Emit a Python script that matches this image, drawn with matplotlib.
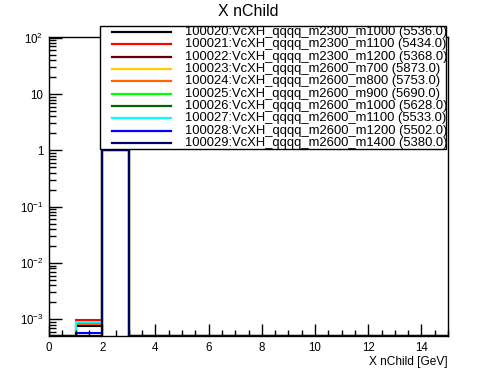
import numpy as np
import matplotlib
matplotlib.use("Agg")
import matplotlib.pyplot as plt
from matplotlib.ticker import FuncFormatter, LogLocator, MultipleLocator
from matplotlib.lines import Line2D
from matplotlib.patches import Rectangle

plt.rcParams['font.family'] = ['Liberation Sans', 'DejaVu Sans']
plt.rcParams['mathtext.fontset'] = 'custom'
plt.rcParams['mathtext.rm'] = 'Liberation Sans'
plt.rcParams['mathtext.it'] = 'Liberation Sans:italic'

# ---- data ----
bin_edges = np.arange(0, 16, 1)
labels = [
    "100020:VcXH_qqqq_m2300_m1000 (5536.0)",
    "100021:VcXH_qqqq_m2300_m1100 (5434.0)",
    "100022:VcXH_qqqq_m2300_m1200 (5368.0)",
    "100023:VcXH_qqqq_m2600_m700 (5873.0)",
    "100024:VcXH_qqqq_m2600_m800 (5753.0)",
    "100025:VcXH_qqqq_m2600_m900 (5690.0)",
    "100026:VcXH_qqqq_m2600_m1000 (5628.0)",
    "100027:VcXH_qqqq_m2600_m1100 (5533.0)",
    "100028:VcXH_qqqq_m2600_m1200 (5502.0)",
    "100029:VcXH_qqqq_m2600_m1400 (5380.0)",
]
colors = ["#000000", "#ff0000", "#660000", "#ffcc00", "#ff6600",
          "#00ff00", "#006600", "#00ffff", "#0000ff", "#000066"]
# value in bin [1,2); bin [2,3) = 1 for all; others 0
bin1_values = [7.6e-4, 9.7e-4, 0.0, 0.0, 8.3e-4, 0.0, 0.0, 9.1e-4, 5.7e-4, 0.0]
bin2_values = [1.0] * 10

ymin, ymax = 5.06e-4, 103.0
xmin, xmax = 0, 15

W, H = 498, 374
fig = plt.figure(figsize=(W / 100, H / 100), dpi=100)
ax = fig.add_axes([49 / W, 1 - 336 / H, (448 - 49) / W, (336 - 37) / H])
ax.set_yscale('log')
ax.set_xlim(xmin, xmax)
ax.set_ylim(ymin, ymax)

for b1, b2, c in zip(bin1_values, bin2_values, colors):
    vals = np.zeros(len(bin_edges) - 1)
    vals[1] = b1
    vals[2] = b2
    vals = np.maximum(vals, ymin)
    ax.stairs(vals, bin_edges, baseline=ymin, color=c, linewidth=1.5, clip_on=True)

def yfmt(v, pos):
    e = int(round(np.log10(v)))
    if e == 0:
        return "1"
    if e == 1:
        return "10"
    return r"$10^{%d}$" % e

ax.yaxis.set_major_locator(LogLocator(base=10, numticks=20))
ax.yaxis.set_minor_locator(LogLocator(base=10, subs=np.arange(2, 10), numticks=20))
ax.yaxis.set_major_formatter(FuncFormatter(yfmt))
ax.yaxis.set_minor_formatter(FuncFormatter(lambda v, p: ""))
ax.xaxis.set_major_locator(MultipleLocator(2))
ax.xaxis.set_minor_locator(MultipleLocator(0.5))

ax.tick_params(axis='both', which='both', direction='in', top=False, right=False,
               labelsize=8.3, width=1, colors='black')
ax.tick_params(axis='y', which='major', length=9, pad=4)
ax.tick_params(axis='y', which='minor', length=5)
ax.tick_params(axis='x', which='major', length=9, pad=4)
ax.tick_params(axis='x', which='minor', length=4.5)
for s in ax.spines.values():
    s.set_linewidth(1)

ax.set_xlabel("X nChild [GeV]", fontsize=8.6, loc='right', labelpad=2)
fig.text(248 / W, 1 - 11 / H, "X nChild", ha='center', va='center', fontsize=11.5)

# ---- legend ----
lx0, lx1, ly0, ly1 = 100 / W, 446 / W, 1 - 149 / H, 1 - 26 / H
fig.patches.append(Rectangle((lx0, ly0), lx1 - lx0, ly1 - ly0, transform=fig.transFigure,
                             facecolor='white', edgecolor='black', linewidth=1, zorder=5))
for i, (lab, c) in enumerate(zip(labels, colors)):
    y = 1 - (32 + i * 12.33) / H
    fig.lines.append(Line2D([112 / W, 171 / W], [y, y], transform=fig.transFigure,
                            color=c, linewidth=1.6, zorder=6))
    fig.text(185 / W, y, lab, ha='left', va='center', fontsize=9.4, zorder=7)

fig.savefig("out.png", dpi=100)
